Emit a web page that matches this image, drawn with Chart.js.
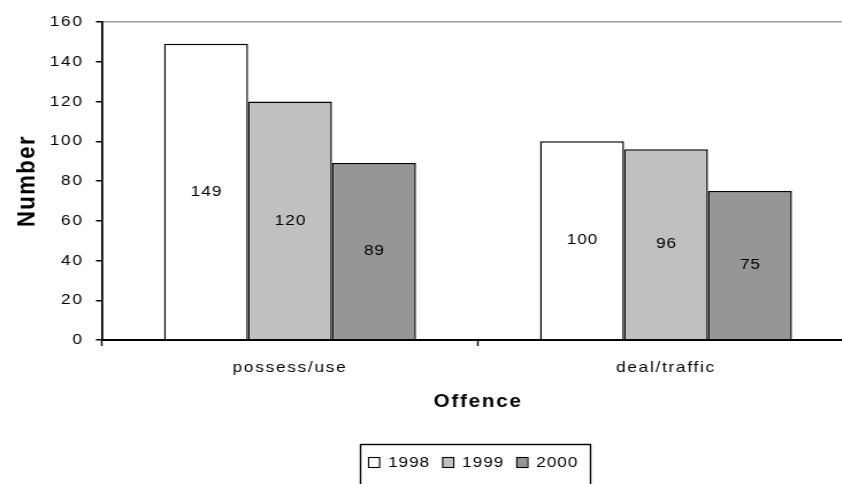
<!DOCTYPE html>
<html>
<head>
<meta charset="utf-8">
<script src="https://cdn.jsdelivr.net/npm/chart.js@4/dist/chart.umd.min.js"></script>
<style>
  html, body { margin: 0; padding: 0; background: #fff; overflow: hidden; }
  /* the chart is drawn narrow and widened horizontally */
  #wrap { width: 748px; height: 484px; transform: scaleX(1.15); transform-origin: 0 0; }
</style>
</head>
<body>
<div id="wrap"><canvas id="c" width="748" height="484"></canvas></div>
<script>
// Offences by type and year
const categories = ['possess/use', 'deal/traffic'];
const years = ['1998', '1999', '2000'];
const counts1998 = [149, 100];
const counts1999 = [120, 96];
const counts2000 = [89, 75];
const yTickValues = [0, 20, 40, 60, 80, 100, 120, 140, 160];

const FONT = '"Liberation Sans", Arial, Helvetica, sans-serif';
const fills = ['#ffffff', '#c0c0c0', '#969696'];

Chart.defaults.font.family = FONT;
Chart.defaults.color = '#000';

// Slight letter spacing for axis text
const spacingPlugin = {
  id: 'spacing',
  beforeDraw(chart) { chart.ctx.letterSpacing = '1.5px'; }
};

// Value written in the middle of each bar
const valueLabels = {
  id: 'valueLabels',
  afterDatasetsDraw(chart) {
    const ctx = chart.ctx;
    ctx.save();
    ctx.letterSpacing = '0.8px';
    ctx.font = '15px ' + FONT;
    ctx.fillStyle = '#000';
    ctx.textAlign = 'center';
    ctx.textBaseline = 'middle';
    chart.data.datasets.forEach((ds, di) => {
      chart.getDatasetMeta(di).data.forEach((bar, i) => {
        const y = (bar.y + bar.base) / 2;
        ctx.fillText(String(ds.data[i]), bar.x + 0.4, y);
      });
    });
    ctx.restore();
  }
};

// Framed legend below the axis title
const boxLegend = {
  id: 'boxLegend',
  afterDraw(chart) {
    const ctx = chart.ctx;
    ctx.save();
    ctx.letterSpacing = '0.8px';
    ctx.font = '15px ' + FONT;
    ctx.lineWidth = 1.4;
    ctx.strokeStyle = '#000';
    ctx.strokeRect(313.5, 444.5, 200, 60);
    let x = 320;
    chart.data.datasets.forEach(ds => {
      ctx.fillStyle = ds.backgroundColor;
      ctx.fillRect(x, 457, 9.6, 10);
      ctx.lineWidth = 1.1;
      ctx.strokeRect(x + 0.5, 457.5, 9.6, 10);
      ctx.fillStyle = '#000';
      ctx.textAlign = 'left';
      ctx.textBaseline = 'alphabetic';
      ctx.fillText(ds.label, x + 17.4, 467);
      const w = ctx.measureText(ds.label).width - 0.8;
      x = x + 17.4 + w + 11.3;
    });
    ctx.restore();
  }
};

new Chart(document.getElementById('c'), {
  type: 'bar',
  data: {
    labels: categories,
    datasets: [
      { label: years[0], data: counts1998, backgroundColor: fills[0] },
      { label: years[1], data: counts1999, backgroundColor: fills[1] },
      { label: years[2], data: counts2000, backgroundColor: fills[2] }
    ]
  },
  options: {
    responsive: false,
    animation: false,
    devicePixelRatio: 1,
    layout: { padding: { top: 22, right: 5.4, left: 0, bottom: 0 } },
    datasets: {
      bar: {
        categoryPercentage: 0.67,
        barPercentage: 1,
        borderColor: '#000',
        borderWidth: 1.5
      }
    },
    plugins: {
      legend: { display: false },
      tooltip: { enabled: false }
    },
    scales: {
      x: {
        offset: true,
        grid: { offset: true, drawOnChartArea: false, tickLength: 6, tickColor: '#000', tickWidth: 1.4 },
        border: { color: '#000', width: 2 },
        ticks: { color: '#000', font: { size: 15 }, padding: 13 },
        title: {
          display: true, text: 'Offence', color: '#000',
          font: { size: 18, weight: 'bold' },
          padding: { top: 0, bottom: 71.5 }
        },
        afterFit(s) { s.height = 144; }
      },
      y: {
        min: 0,
        max: 160,
        afterBuildTicks(s) { s.ticks = yTickValues.map(v => ({ value: v })); },
        grid: {
          color: c => (c.tick && c.tick.value === 160) ? '#a0a0a0' : 'rgba(0,0,0,0)',
          lineWidth: 1.5,
          tickColor: '#000',
          tickLength: 5.2,
          tickWidth: 1.5
        },
        border: { color: '#000', width: 1.8 },
        ticks: { color: '#000', font: { size: 15 }, padding: 10.7 },
        title: {
          display: true, text: 'Number', color: '#000',
          font: { size: 22, weight: 'bold' },
          padding: { top: 10.3, bottom: 0 }
        },
        afterFit(s) { s.width = 88.7; }
      }
    }
  },
  plugins: [spacingPlugin, valueLabels, boxLegend]
});
</script>
</body>
</html>
